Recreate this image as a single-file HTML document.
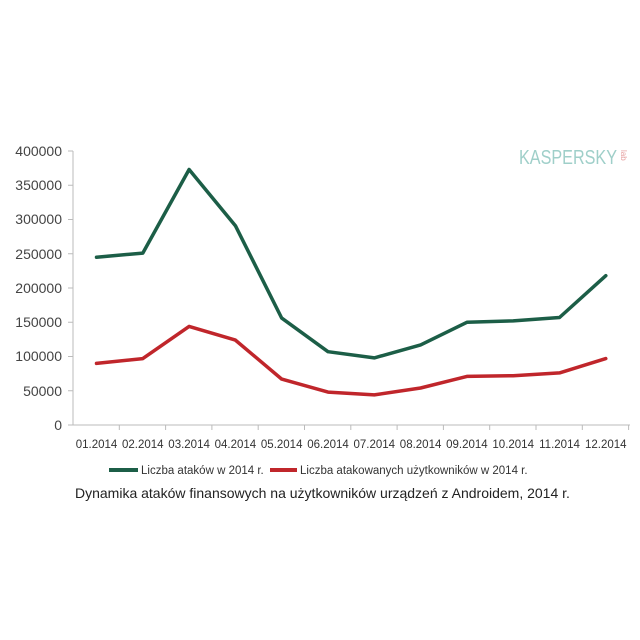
<!DOCTYPE html>
<html><head><meta charset="utf-8"><style>body{margin:0;background:#fff}svg{display:block}text{font-family:"Liberation Sans",sans-serif}</style></head><body>
<svg width="640" height="640" viewBox="0 0 640 640">
<text x="519" y="164" font-size="20" fill="#9fcfc9" textLength="98" lengthAdjust="spacingAndGlyphs">KASPERSKY</text>
<text x="621" y="150" font-size="8" fill="#e6a0a0" transform="rotate(90 621 150)">lab</text>
<g stroke="#bbb" stroke-width="1" fill="none">
<line x1="73" y1="151" x2="73" y2="425"/>
<line x1="73" y1="425" x2="630" y2="425"/>
<line x1="68" y1="151" x2="73" y2="151"/><line x1="68" y1="185.25" x2="73" y2="185.25"/><line x1="68" y1="219.5" x2="73" y2="219.5"/><line x1="68" y1="253.75" x2="73" y2="253.75"/><line x1="68" y1="288" x2="73" y2="288"/><line x1="68" y1="322.25" x2="73" y2="322.25"/><line x1="68" y1="356.5" x2="73" y2="356.5"/><line x1="68" y1="390.75" x2="73" y2="390.75"/><line x1="68" y1="425" x2="73" y2="425"/>
<line x1="119.3" y1="425" x2="119.3" y2="430"/><line x1="165.6" y1="425" x2="165.6" y2="430"/><line x1="211.9" y1="425" x2="211.9" y2="430"/><line x1="258.2" y1="425" x2="258.2" y2="430"/><line x1="304.5" y1="425" x2="304.5" y2="430"/><line x1="350.8" y1="425" x2="350.8" y2="430"/><line x1="397.1" y1="425" x2="397.1" y2="430"/><line x1="443.4" y1="425" x2="443.4" y2="430"/><line x1="489.7" y1="425" x2="489.7" y2="430"/><line x1="536" y1="425" x2="536" y2="430"/><line x1="582.3" y1="425" x2="582.3" y2="430"/><line x1="628.6" y1="425" x2="628.6" y2="430"/>
</g>
<g font-size="14" fill="#444" text-anchor="end">
<text x="62" y="156">400000</text><text x="62" y="190">350000</text><text x="62" y="224">300000</text><text x="62" y="259">250000</text><text x="62" y="293">200000</text><text x="62" y="327">150000</text><text x="62" y="361">100000</text><text x="62" y="396">50000</text><text x="62" y="430">0</text>
</g>
<g font-size="11.5" fill="#333" text-anchor="middle">
<text x="96.5" y="448">01.2014</text><text x="142.8" y="448">02.2014</text><text x="189.1" y="448">03.2014</text><text x="235.4" y="448">04.2014</text><text x="281.7" y="448">05.2014</text><text x="328" y="448">06.2014</text><text x="374.3" y="448">07.2014</text><text x="420.6" y="448">08.2014</text><text x="466.9" y="448">09.2014</text><text x="513.2" y="448">10.2014</text><text x="559.5" y="448">11.2014</text><text x="605.8" y="448">12.2014</text>
</g>
<g fill="none" stroke-width="3.5" stroke-linejoin="round" stroke-linecap="round">
<polyline stroke="#1c5e47" points="96.5,257.2 142.8,253.1 189.1,169.5 235.4,225.7 281.7,318.1 328,351.7 374.3,357.9 420.6,344.9 466.9,322.3 513.2,320.9 559.5,317.5 605.8,275.7"/>
<polyline stroke="#c0262b" points="96.5,363.4 142.8,358.6 189.1,326.4 235.4,340.1 281.7,379.1 328,392.1 374.3,394.9 420.6,388 466.9,376.4 513.2,375.7 559.5,372.9 605.8,358.6"/>
</g>
<line x1="109" y1="470" x2="138" y2="470" stroke="#1c5e47" stroke-width="4"/>
<text x="141" y="474" font-size="11.5" fill="#333">Liczba ataków w 2014 r.</text>
<line x1="270" y1="470" x2="297" y2="470" stroke="#c0262b" stroke-width="4"/>
<text x="300" y="474" font-size="11.5" fill="#333">Liczba atakowanych użytkowników w 2014 r.</text>
<text x="75" y="498" font-size="14" fill="#222">Dynamika ataków finansowych na użytkowników urządzeń z Androidem, 2014 r.</text>
</svg>
</body></html>
